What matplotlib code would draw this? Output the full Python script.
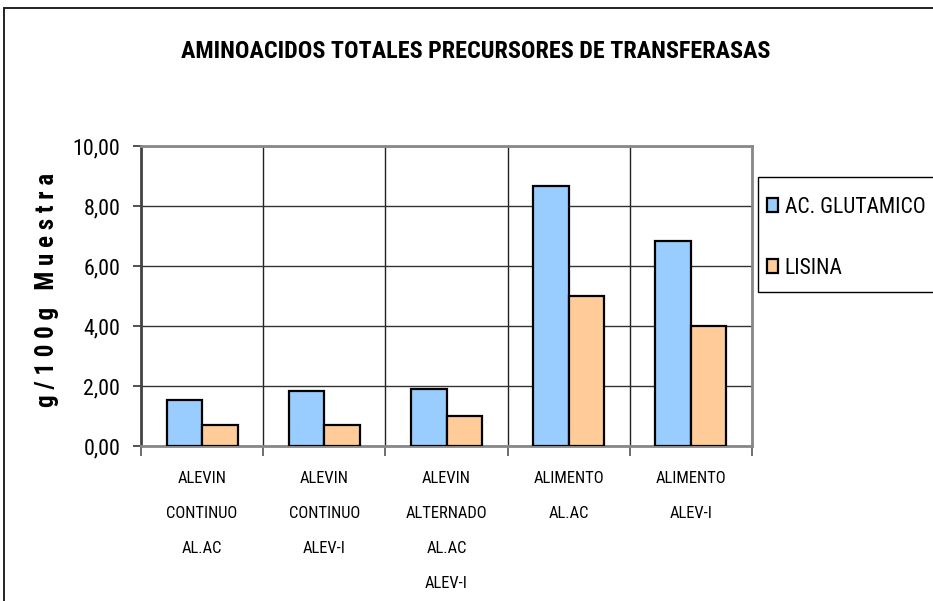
import matplotlib

matplotlib.use("Agg")
import matplotlib.pyplot as plt
import numpy as np
from matplotlib import font_manager
from matplotlib.patches import Rectangle
from matplotlib.ticker import FixedLocator, FuncFormatter

CATEGORIES = [
    "ALEVIN\nCONTINUO\nAL.AC",
    "ALEVIN\nCONTINUO\nALEV-I",
    "ALEVIN\nALTERNADO\nAL.AC\nALEV-I",
    "ALIMENTO\nAL.AC",
    "ALIMENTO\nALEV-I",
]
GLUTAMICO = [1.52, 1.82, 1.91, 8.68, 6.85]
LISINA = [0.69, 0.69, 1.01, 5.00, 3.99]
SERIES = ["AC. GLUTAMICO", "LISINA"]
COLORS = ["#99CCFF", "#FFCC99"]


def pick_narrow_font():
    # the original uses Arial Narrow; take whatever condensed face is around
    fonts = font_manager.fontManager.ttflist
    for f in fonts:
        if f.name in ("Liberation Sans Narrow", "Arial Narrow", "Roboto Condensed"):
            return f.name, "normal"
    for f in fonts:
        if f.name == "DejaVu Sans" and "Condensed" in f.fname:
            return "DejaVu Sans", "condensed"
    return "Liberation Sans", "normal"


family, stretch = pick_narrow_font()
plt.rcParams["font.family"] = [family, "DejaVu Sans"]
plt.rcParams["font.stretch"] = stretch

W, H = 933, 601
fig = plt.figure(figsize=(W / 100, H / 100), dpi=100)


def px_box(x0, y0, x1, y1, **kw):
    # rectangle given in picture pixels (top-left origin), drawn in figure coords
    return Rectangle((x0 / W, 1 - y1 / H), (x1 - x0) / W, (y1 - y0) / H,
                     transform=fig.transFigure, **kw)


# outer chart border (runs off the right and bottom edges) and legend frame
fig.add_artist(px_box(4, 8, W + 50, H + 50, fill=False, edgecolor="#222222", linewidth=1.4))
fig.add_artist(px_box(758, 177, W + 30, 292, facecolor="white", edgecolor="black", linewidth=1.0))

ax = fig.add_axes([141 / W, 1 - 446 / H, (752 - 141) / W, (446 - 146) / H])

x = np.arange(len(CATEGORIES))
width = 0.29
ax.bar(x - width / 2, GLUTAMICO, width, color=COLORS[0], edgecolor="black", linewidth=1.6,
       label=SERIES[0], zorder=3)
ax.bar(x + width / 2, LISINA, width, color=COLORS[1], edgecolor="black", linewidth=1.6,
       label=SERIES[1], zorder=3)

ax.set_xlim(-0.5, len(CATEGORIES) - 0.5)
ax.set_ylim(0, 10)
ax.set_yticks(np.arange(0, 10.01, 2))
ax.yaxis.set_major_formatter(FuncFormatter(lambda v, _: f"{v:.2f}".replace(".", ",")))
ax.set_xticks(x)
ax.set_xticklabels(CATEGORIES, fontsize=12, linespacing=2.68, va="top")
ax.xaxis.set_minor_locator(FixedLocator(np.arange(-0.5, len(CATEGORIES), 1.0)))
ax.tick_params(axis="x", which="major", length=0, pad=18)
ax.tick_params(axis="x", which="minor", length=7, width=1.2, color="#555555", direction="out")
ax.tick_params(axis="y", length=6, width=1.2, color="#333333", pad=9, labelsize=17)

ax.grid(axis="y", color="#333333", linewidth=1.0, zorder=0)
ax.grid(axis="x", which="minor", color="#222222", linewidth=1.0, zorder=0)
ax.set_axisbelow(True)

ax.spines["left"].set_color("#444444")
ax.spines["left"].set_linewidth(2)
for side in ("bottom", "top", "right"):
    ax.spines[side].set_color("#888888")
    ax.spines[side].set_linewidth(2)

title = fig.text(476 / W, 1 - 51 / H, "AMINOACIDOS TOTALES PRECURSORES DE TRANSFERASAS",
                 ha="center", va="center", fontsize=17, fontweight="bold")
ylab = fig.text(47 / W, 1 - 290 / H, "g / 1 0 0 g   M u e s t r a", rotation=90,
                ha="center", va="center", fontsize=15, fontweight="bold")

leg = fig.legend(loc="upper left", bbox_to_anchor=(767 / W, 1 - 197 / H), borderaxespad=0,
                 fontsize=16, handlelength=0.5, handleheight=0.55, handletextpad=0.3,
                 labelspacing=1.8, borderpad=0, frameon=False)
for patch in leg.get_patches():
    patch.set_linewidth(1.6)

# scale font sizes so the text widths match the reference whatever face got picked
fig.canvas.draw()
r = fig.canvas.get_renderer()


def scale(artist, target_px, horizontal=True):
    bb = artist.get_window_extent(r)
    return target_px / (bb.width if horizontal else bb.height)


title.set_fontsize(title.get_fontsize() * scale(title, 591))
ylab.set_fontsize(ylab.get_fontsize() * scale(ylab, 234, horizontal=False))
ytl = ax.get_yticklabels()[-1]
ax.tick_params(axis="y", labelsize=ytl.get_fontsize() * scale(ytl, 48))
xtl = ax.get_xticklabels()[0]
ax.tick_params(axis="x", which="major", labelsize=xtl.get_fontsize() * scale(xtl, 71))
lisina = leg.get_texts()[1]
leg_size = lisina.get_fontsize() * scale(lisina, 58)
for t in leg.get_texts():
    t.set_fontsize(leg_size)

fig.savefig("out.png", dpi=100)
